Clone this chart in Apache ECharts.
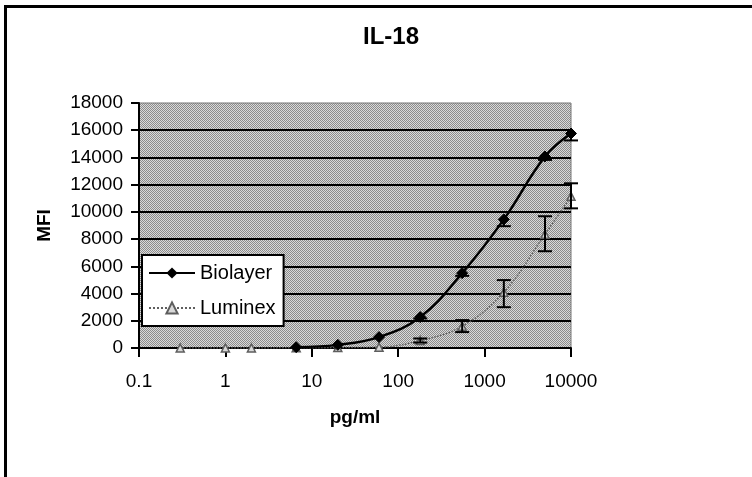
<!DOCTYPE html>
<html>
<head>
<meta charset="utf-8">
<script src="https://cdn.jsdelivr.net/npm/echarts@6/dist/echarts.min.js"></script>
<style>
html,body{margin:0;padding:0;background:#fff;}
#c{width:752px;height:477px;}
</style>
</head>
<body>
<div id="c"></div>
<script>
// ---- data ----
var titleText = 'IL-18';
var xName = 'pg/ml';
var yName = 'MFI';
var yTicks = [0, 2000, 4000, 6000, 8000, 10000, 12000, 14000, 16000, 18000];
var xTicks = [0.1, 1, 10, 100, 1000, 10000];

var bioX = [6.6, 20, 60, 180, 550, 1670, 5000, 10000];
var bioY = [60, 230, 800, 2270, 5500, 9450, 14070, 15760];
var bioErrLow = [60, 230, 800, 2170, 5300, 8950, 13820, 15250];

var lumX = [0.3, 1, 2, 6.6, 20, 60, 180, 550, 1670, 5000, 10000];
var lumY = [0, 0, 0, 20, 30, 60, 550, 1600, 4100, 8360, 11140];
var lumErrLow = [0, 0, 0, 20, 30, 60, 400, 1170, 3000, 7110, 10260];
var lumErrHigh = [0, 0, 0, 20, 30, 60, 700, 2050, 4990, 9680, 12100];

// ---- build ----
function pairs(xs, ys) { return xs.map(function (x, i) { return [x, ys[i]]; }); }
var bioErr = bioX.map(function (x, i) { return [x, bioErrLow[i], bioY[i]]; }).filter(function (d) { return d[2] - d[1] > 0; });
var lumErr = lumX.map(function (x, i) { return [x, lumErrLow[i], lumErrHigh[i]]; }).filter(function (d) { return d[2] - d[1] > 0; });

function errRender(capTop, capBottom) {
  return function (params, api) {
    var x = api.value(0);
    var lo = api.coord([x, api.value(1)]);
    var hi = api.coord([x, api.value(2)]);
    var hw = 7;
    var children = [{
      type: 'line', shape: { x1: lo[0], y1: lo[1], x2: hi[0], y2: hi[1] },
      style: { stroke: '#000', lineWidth: 2 }
    }];
    if (capBottom) children.push({ type: 'line', shape: { x1: lo[0] - hw, y1: lo[1], x2: lo[0] + hw, y2: lo[1] }, style: { stroke: '#000', lineWidth: 2 } });
    if (capTop) children.push({ type: 'line', shape: { x1: hi[0] - hw, y1: hi[1], x2: hi[0] + hw, y2: hi[1] }, style: { stroke: '#000', lineWidth: 2 } });
    return { type: 'group', children: children };
  };
}

var pc = document.createElement('canvas');
pc.width = 2; pc.height = 2;
var pctx = pc.getContext('2d');
pctx.fillStyle = '#dadada'; pctx.fillRect(0, 0, 2, 2);
pctx.fillStyle = '#8c8c8c'; pctx.fillRect(0, 0, 1, 1); pctx.fillRect(1, 1, 1, 1);

var FONT = 'Liberation Sans, Arial, sans-serif';
var splitColors = yTicks.map(function (v, i) { return i === yTicks.length - 1 ? 'rgba(0,0,0,0)' : '#000'; });

var chart = echarts.init(document.getElementById('c'), null, { renderer: 'canvas' });
chart.setOption({
  animation: false,
  backgroundColor: '#fff',
  title: {
    text: titleText, left: 386, top: 20, textAlign: 'center',
    textStyle: { fontFamily: FONT, fontSize: 24, fontWeight: 'bold', color: '#000' }
  },
  grid: {
    left: 139, right: 181, top: 103, bottom: 129,
    show: true, backgroundColor: { image: pc, repeat: 'repeat' },
    borderColor: '#777', borderWidth: 1
  },
  legend: {
    orient: 'vertical', left: 142, top: 255,
    width: 139, padding: [8, 8, 8, 6],
    backgroundColor: '#fff', borderColor: '#000', borderWidth: 2,
    itemWidth: 46, itemHeight: 14, itemGap: 15,
    textStyle: { fontFamily: FONT, fontSize: 20, color: '#000' },
    data: ['Biolayer', 'Luminex']
  },
  xAxis: {
    type: 'log', logBase: 10, min: 0.1, max: 10000,
    name: xName, nameLocation: 'middle', nameGap: 60,
    nameTextStyle: { fontFamily: FONT, fontSize: 19, fontWeight: 'bold', color: '#000' },
    axisLine: { lineStyle: { color: '#000', width: 2 } },
    axisTick: { show: true, length: 9, lineStyle: { color: '#000', width: 2 } },
    minorTick: { show: false },
    splitLine: { show: false },
    axisLabel: {
      margin: 24, fontFamily: FONT, fontSize: 19, color: '#000',
      formatter: function (v) { return String(+(+v).toPrecision(6)); }
    }
  },
  yAxis: {
    type: 'value', min: 0, max: 18000, interval: 2000,
    name: yName, nameLocation: 'middle', nameGap: 85, nameRotate: 90,
    nameTextStyle: { fontFamily: FONT, fontSize: 19, fontWeight: 'bold', color: '#000' },
    axisLine: { show: true, lineStyle: { color: '#000', width: 2 } },
    axisTick: { show: true, length: 8, lineStyle: { color: '#000', width: 2 } },
    splitLine: { show: true, lineStyle: { color: splitColors, width: 2 } },
    axisLabel: {
      margin: 16, fontFamily: FONT, fontSize: 19, color: '#000',
      formatter: function (v) { return String(v); }
    }
  },
  series: [
    {
      name: 'Biolayer', type: 'line', data: pairs(bioX, bioY), smooth: 0.4,
      symbol: 'diamond', symbolSize: 11, z: 4,
      lineStyle: { color: '#000', width: 2.5 },
      itemStyle: { color: '#000', borderColor: '#000' }
    },
    {
      name: 'Luminex', type: 'line', data: pairs(lumX, lumY), smooth: 0.4,
      symbol: 'triangle', symbolSize: 8, z: 3,
      lineStyle: { color: '#5e5e5e', width: 1.5, type: 'dotted' },
      itemStyle: { color: '#d8d8d8', borderColor: '#5e5e5e', borderWidth: 1.5 }
    },
    {
      name: 'bioErr', type: 'custom', data: bioErr, renderItem: errRender(false, true), z: 5,
      encode: { x: 0, y: [1, 2] }, silent: true
    },
    {
      name: 'lumErr', type: 'custom', data: lumErr, renderItem: errRender(true, true), z: 5,
      encode: { x: 0, y: [1, 2] }, silent: true
    }
  ],
  graphic: [{
    type: 'rect', shape: { x: 5.5, y: 6.5, width: 800, height: 500 },
    style: { fill: 'none', stroke: '#000', lineWidth: 3 }, z: 100, silent: true
  }]
});
</script>
</body>
</html>
